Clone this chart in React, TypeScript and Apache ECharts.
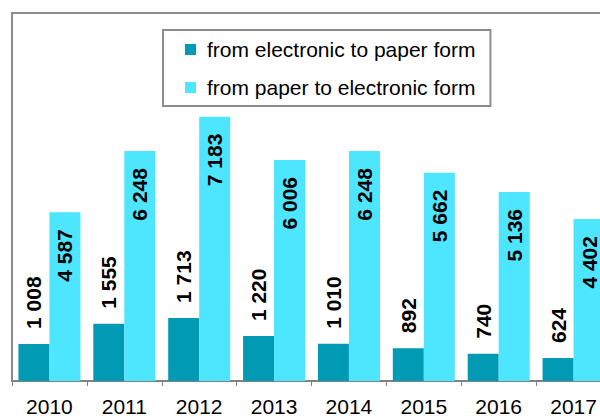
import React, { useEffect, useRef } from "react";
import * as echarts from "echarts";

const years = ["2010", "2011", "2012", "2013", "2014", "2015", "2016", "2017"];
const electronicToPaper = [1008, 1555, 1713, 1220, 1010, 892, 740, 624];
const paperToElectronic = [4587, 6248, 7183, 6006, 6248, 5662, 5136, 4402];
const seriesNames = ["from electronic to paper form", "from paper to electronic form"];

const fmt = (v: number) => {
  const s = String(v);
  return s.length > 3 ? s.slice(0, s.length - 3) + " " + s.slice(-3) : s;
};

const FONT = "Liberation Sans, Arial, sans-serif";

export default function App() {
  const ref = useRef<HTMLDivElement>(null);
  useEffect(() => {
    if (!ref.current) return;
    const chart = echarts.init(ref.current, null, { renderer: "svg" });
    chart.setOption({
      animation: false,
      backgroundColor: "#ffffff",
      textStyle: { fontFamily: FONT },
      grid: {
        left: 12,
        top: 13,
        width: 599,
        height: 368,
        show: true,
        borderColor: "#8c8c8c",
        borderWidth: 2,
        backgroundColor: "transparent",
        outerBoundsMode: "none",
        containLabel: false,
      },
      legend: {
        orient: "vertical",
        left: 163,
        top: 30,
        itemWidth: 11,
        itemHeight: 11,
        itemGap: 17,
        icon: "rect",
        padding: [9, 15, 8, 22],
        borderColor: "#8c8c8c",
        borderWidth: 2,
        backgroundColor: "#ffffff",
        textStyle: {
          fontSize: 21,
          lineHeight: 21,
          color: "#000",
          fontFamily: FONT,
          padding: [0, 0, 0, 6],
        },
        data: seriesNames,
      },
      xAxis: {
        type: "category",
        data: years,
        axisLine: { lineStyle: { color: "#7f7f7f", width: 1.5 } },
        axisTick: { show: true, length: 5, lineStyle: { color: "#7f7f7f" } },
        axisLabel: {
          fontSize: 21,
          lineHeight: 16,
          color: "#000",
          margin: 17,
          fontFamily: FONT,
          hideOverlap: false,
        },
      },
      yAxis: {
        type: "value",
        min: 0,
        max: 10000,
        axisLine: { show: false },
        axisTick: { show: false },
        axisLabel: { show: false },
        splitLine: { show: false },
      },
      series: [
        {
          name: seriesNames[0],
          type: "bar",
          data: electronicToPaper,
          barWidth: 31,
          barGap: "0%",
          itemStyle: { color: "#009ab4" },
          label: {
            show: true,
            position: "top",
            distance: 15,
            rotate: 90,
            align: "left",
            verticalAlign: "middle",
            fontSize: 21,
            fontWeight: "bold",
            color: "#000",
            fontFamily: FONT,
            formatter: (p: any) => fmt(p.value),
          },
        },
        {
          name: seriesNames[1],
          type: "bar",
          data: paperToElectronic,
          barWidth: 31,
          barGap: "0%",
          itemStyle: { color: "#4de5ff" },
          label: {
            show: true,
            position: "insideTop",
            distance: 17,
            rotate: 90,
            align: "right",
            verticalAlign: "middle",
            fontSize: 21,
            fontWeight: "bold",
            color: "#000",
            fontFamily: FONT,
            formatter: (p: any) => fmt(p.value),
          },
        },
      ],
    });
    return () => chart.dispose();
  }, []);
  return (
    <div
      ref={ref}
      style={{ position: "fixed", left: 0, top: 0, width: 600, height: 416 }}
    />
  );
}
